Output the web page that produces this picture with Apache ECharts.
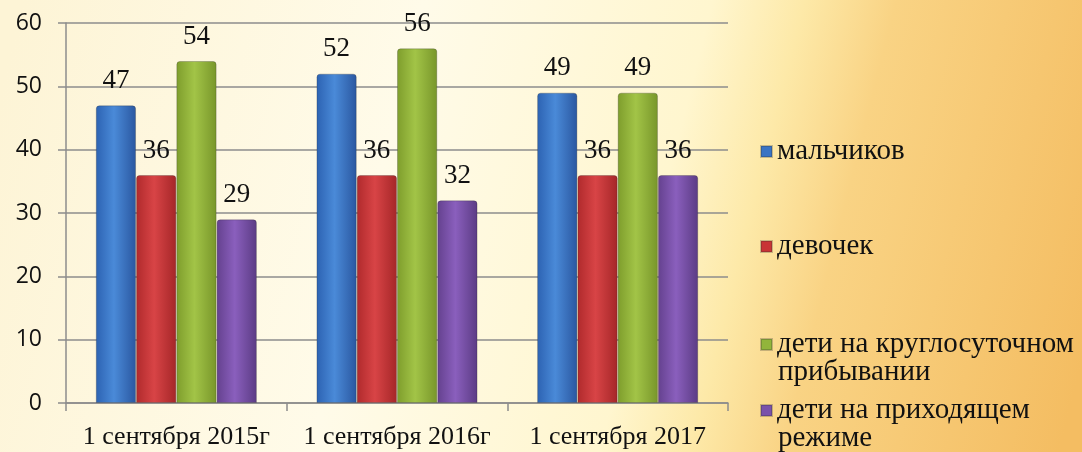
<!DOCTYPE html>
<html>
<head>
	<meta charset="utf-8">
	<title>Дети по годам</title>
	<script type="text/javascript" src="https://cdn.jsdelivr.net/npm/echarts@6/dist/echarts.min.js"></script>
	<style>
		html, body { margin: 0; padding: 0; }
	</style>
</head>
<body>
	<div id="main" style="width: 1082px;height: 452px"></div>
	<script type="text/javascript">
	// данные
	const categories = ['1 сентября 2015г', '1 сентября 2016г', '1 сентября 2017'];
	const boys = [47, 52, 49];
	const girls = [36, 36, 36];
	const roundClock = [54, 56, 49];
	const visiting = [29, 32, 36];
	const seriesNames = ['мальчиков', 'девочек', 'дети на круглосуточном прибывании', 'дети на приходящем режиме'];
	// первая строка подписи в легенде, вторая — отдельно
	const legendFirst = ['мальчиков', 'девочек', 'дети на круглосуточном', 'дети на приходящем'];
	const legendSecond = ['', '', 'прибывании', 'режиме'];

	// горизонтальный градиент для "объёмных" столбиков
	function barColor(dark, light, edge) {
		return new echarts.graphic.LinearGradient(0, 0, 1, 0, [
			{offset: 0, color: dark},
			{offset: 0.45, color: light},
			{offset: 1, color: edge}
		]);
	}
	const colors = [
		barColor('#2c62b2', '#4a8ad8', '#2a57a0'),
		barColor('#b02a2c', '#d84446', '#a52628'),
		barColor('#7e9d2c', '#a2c447', '#78962a'),
		barColor('#64418e', '#8a5fbd', '#5b3b84')
	];
	const iconColors = ['#3a74c4', '#c83436', '#92b53b', '#7a52aa'];
	const values = [boys, girls, roundClock, visiting];

	// центры первой строки подписей легенды
	const legendCenters = [147, 242, 340, 406];
	const serif = 'Liberation Serif';

	const chart = echarts.init(document.getElementById('main'));

	const option = {
		backgroundColor: new echarts.graphic.LinearGradient(0, 0.2, 1, 0.8, [
			{offset: 0, color: '#fdf4d6'},
			{offset: 0.35, color: '#fffbe9'},
			{offset: 0.6, color: '#fff6cf'},
			{offset: 0.68, color: '#fde9a8'},
			{offset: 0.76, color: '#f9d384'},
			{offset: 1, color: '#f4bd62'}
		]),
		grid: {
			left: 66,
			right: 354,
			top: 23,
			bottom: 49
		},
		legend: seriesNames.map(function (name, i) {
			return {
				data: [{name: name, itemStyle: {color: iconColors[i]}}],
				left: 755,
				top: legendCenters[i] - 15,
				orient: 'vertical',
				icon: 'rect',
				itemWidth: 11,
				itemHeight: 11,
				itemGap: 0,
				selectedMode: false,
				formatter: function () { return legendFirst[i]; },
				textStyle: {
					fontFamily: serif,
					fontSize: 29,
					color: '#111'
				}
			};
		}),
		graphic: legendSecond.map(function (t, i) {
			return {
				type: 'text',
				x: 778,
				y: legendCenters[i] + 32,
				style: {
					text: t,
					fontFamily: serif,
					fontSize: 29,
					fill: '#111',
					verticalAlign: 'middle'
				}
			};
		}),
		xAxis: {
			type: 'category',
			data: categories,
			axisLine: {lineStyle: {color: '#8c8c8c', width: 1.5}},
			axisTick: {show: true, length: 8, lineStyle: {color: '#8c8c8c', width: 1.5}},
			axisLabel: {
				interval: 0,
				fontFamily: serif,
				fontSize: 26,
				color: '#111',
				margin: 21
			}
		},
		yAxis: {
			type: 'value',
			min: 0,
			max: 60,
			interval: 10,
			axisLine: {show: true, lineStyle: {color: '#8c8c8c', width: 1.5}},
			axisTick: {show: true, length: 8, lineStyle: {color: '#8c8c8c', width: 1.5}},
			splitLine: {lineStyle: {color: '#8c8c8c', width: 1.5}},
			axisLabel: {
				fontFamily: 'Open Sans',
				fontSize: 23,
				color: '#111',
				margin: 24
			}
		},
		series: seriesNames.map(function (name, i) {
			return {
				name: name,
				type: 'bar',
				data: values[i],
				barGap: '0%',
				barCategoryGap: '27%',
				itemStyle: {
					color: colors[i],
					borderColor: 'rgba(40,40,40,0.25)',
					borderWidth: 1,
					borderRadius: [3, 3, 0, 0]
				},
				label: {
					show: true,
					position: 'top',
					distance: 11,
					fontFamily: serif,
					fontSize: 27,
					color: '#111'
				}
			};
		})
	};

	chart.setOption(option);
	</script>
</body>
</html>
